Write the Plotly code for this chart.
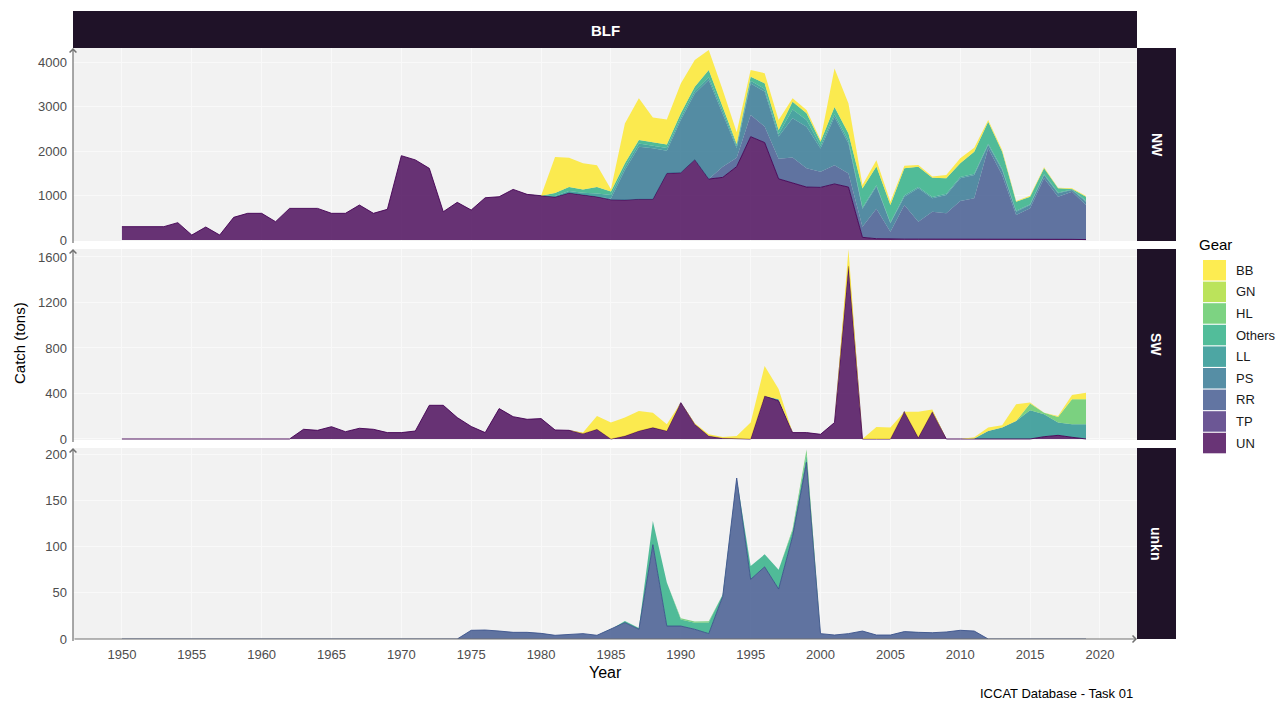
import plotly.graph_objects as go

# ---------------------------------------------------------------------------
# Data: BLF catch (tons) by gear, 1950-2019, for the NW, SW and unkn stocks
# ---------------------------------------------------------------------------
years = list(range(1950, 2020))
gears = ["BB", "GN", "HL", "Others", "LL", "PS", "RR", "TP", "UN"]
gear_colors = {
    "BB": "#FDE725", "GN": "#AADC32", "HL": "#5DC863", "Others": "#27AD81",
    "LL": "#21908C", "PS": "#2C728E", "RR": "#3B528B", "TP": "#472D7B",
    "UN": "#440154",
}
x_ticks = [1950, 1955, 1960, 1965, 1970, 1975, 1980, 1985, 1990, 1995,
           2000, 2005, 2010, 2015, 2020]


def from_year(first, values):
    """Series that starts in `first`; earlier years carry no catch."""
    return [0] * (first - 1950) + list(values)


# NW
nw_un = [300, 300, 300, 300, 390, 112, 292, 112, 510, 600,
         600, 412, 711, 711, 711, 600, 600, 786, 600, 690,
         1895, 1800, 1610, 636, 846, 674, 950, 973, 1138, 1026,
         996, 965, 1055, 1011, 970, 905, 900, 914, 914, 1498,
         1513, 1805, 1370, 1408, 1650, 2322, 2190, 1375, 1280, 1190,
         1183, 1260, 1190, 60, 30, 20, 20, 20, 20, 20,
         20, 20, 20, 15, 15, 15, 30, 20, 15, 10]
nw_rr = from_year(1993, [240, 200, 487, 360, 450, 575, 420, 350, 420, 305,
                         240, 670, 167, 766, 392, 617, 580, 856, 916, 2040,
                         1445, 547, 697, 1356, 954, 1071, 776])
nw_ps = from_year(1985, [30, 673, 1183, 1150, 510, 1183, 1490, 2225, 1198, 220,
                         711, 786, 500, 880, 937, 525, 1086, 674, 400, 500,
                         188, 188, 749, 299, 411, 510, 524, 75, 113, 75,
                         74, 74, 75, 38, 75])
nw_ll = from_year(1981, [26, 46, 49, 76, 76, 67, 73, 60, 60, 60,
                         60, 60, 60, 40, 60, 60, 60, 200, 150, 60,
                         60, 60, 30, 30, 20, 30, 30, 30, 30, 30,
                         30, 30, 30, 20, 20, 20, 20, 10, 20])
nw_others = from_year(1981, [64, 88, 78, 148, 80, 83, 77, 70, 80, 90,
                             89, 165, 90, 50, 90, 127, 89, 173, 149, 90,
                             165, 165, 430, 420, 391, 606, 457, 434, 345, 307,
                             495, 494, 382, 204, 168, 130, 92, 12, 93])
nw_bb = from_year(1981, [809, 659, 585, 487, 50, 897, 936, 561, 561, 674,
                         600, 450, 374, 262, 150, 225, 225, 75, 75, 37,
                         861, 674, 75, 140, 75, 60, 37, 30, 74, 112,
                         90, 37, 37, 15, 22, 23, 15, 15, 15])

# SW
sw_un = [0, 0, 0, 0, 0, 0, 0, 0, 0, 0,
         0, 0, 0, 85, 76, 108, 64, 94, 85, 56,
         56, 70, 296, 296, 188, 110, 56, 267, 196, 173,
         179, 79, 76, 47, 85, 0, 26, 70, 100, 70,
         319, 129, 26, 6, 0, 0, 378, 334, 56, 56,
         41, 144, 1521, 0, 0, 0, 240, 12, 240, 0,
         0, 0, 0, 0, 0, 0, 20, 32, 15, 0]
sw_ll = from_year(1997, [15, 0, 0, 0, 0, 0, 0, 0, 0, 0,
                         0, 0, 0, 0, 5, 70, 100, 158, 252, 197,
                         112, 114, 129])
sw_hl = from_year(2015, [60, 14, 49, 220, 220])
sw_bb = from_year(1983, [10, 117, 144, 162, 176, 131, 59, 0, 10, 15,
                         12, 26, 144, 264, 90, 0, 0, 0, 0, 146,
                         0, 105, 100, 0, 228, 20, 0, 0, 10, 30,
                         20, 147, 8, 0, 9, 38, 58])

# unkn
unkn_rr = from_year(1975, [9.4, 9.7, 8.6, 7.2, 7.2, 6.1, 4.0, 4.7, 5.8, 4.0,
                           10.5, 17.7, 10.5, 102, 14, 14, 10.5, 5.8, 46, 174,
                           64.5, 78, 54, 111, 191, 5.8, 4.3, 5.8, 8.6, 4.3,
                           4.3, 8.0, 7.2, 6.8, 7.6, 9.4, 8.6, 0, 0, 0,
                           0, 0, 0, 0, 0])
unkn_others = from_year(1986, [1.8, 1.5, 25.6, 47, 7, 7, 12, 2, 0, 14.5,
                               13.5, 21, 6, 8])
unkn_hl = from_year(1990, [1.5, 1.5, 1.5, 0, 0, 0, 0, 0, 2, 6])

panels = [
    ("NW", {"UN": nw_un, "RR": nw_rr, "PS": nw_ps, "LL": nw_ll,
            "Others": nw_others, "BB": nw_bb}),
    ("SW", {"UN": sw_un, "LL": sw_ll, "HL": sw_hl, "BB": sw_bb}),
    ("unkn", {"RR": unkn_rr, "Others": unkn_others, "HL": unkn_hl}),
]
y_ranges = [[-22, 4315], [-9, 1670], [0, 206.5]]
y_ticks = [[0, 1000, 2000, 3000, 4000],
           [0, 400, 800, 1200, 1600],
           [0, 50, 100, 150, 200]]

# ---------------------------------------------------------------------------
# Geometry: positions are given in pixels of the 1281 x 702 view; the page is
# rendered slightly taller (FIG_H) and shown squeezed into VIEW_H.
# ---------------------------------------------------------------------------
W, VIEW_H, FIG_H = 1281, 702, 711
Y_STRETCH = FIG_H / VIEW_H
PANEL_X = (73, 1137)
PANEL_ROWS = [(47, 240), (248, 439), (447, 638)]
STRIP_DARK = "#1F1228"
BG = "#F2F2F2"
FONT = "Liberation Sans, Arial, sans-serif"


def fx(p):
    return p / W


def fy(p):
    return 1 - p / VIEW_H


def rgba(hex_color, a):
    h = hex_color.lstrip("#")
    r, g, b = int(h[0:2], 16), int(h[2:4], 16), int(h[4:6], 16)
    return f"rgba({r},{g},{b},{a})"


def label(text, x, y, size, color, **kw):
    """Paper-positioned text centred on (x, y) pixels unless told otherwise."""
    base = dict(text=text, xref="paper", yref="paper", x=fx(x), y=fy(y),
                xanchor="center", yanchor="middle", showarrow=False,
                font=dict(size=size, color=color))
    base.update(kw)
    return base


fig = go.Figure()

stack_order = list(reversed(gears))  # UN at the bottom, BB on top
for i, (name, series) in enumerate(panels):
    xa = "x" if i == 0 else f"x{i + 1}"
    ya = "y" if i == 0 else f"y{i + 1}"
    first = True
    for gear in stack_order:
        if gear not in series:
            continue
        # the lowest layer of each panel keeps a thin outline (baseline too)
        lw = 0.9 if first else 0
        first = False
        fig.add_trace(go.Scatter(
            x=years, y=series[gear], name=gear, mode="lines",
            stackgroup=name, line=dict(width=lw, color=gear_colors[gear]),
            fillcolor=rgba(gear_colors[gear], 0.8),
            xaxis=xa, yaxis=ya, showlegend=False,
            hovertemplate=f"{name} {gear}<br>%{{x}}: %{{y}} t<extra></extra>",
        ))

layout = dict(
    width=W, height=FIG_H, autosize=False,
    margin=dict(l=0, r=0, t=0, b=0, pad=0),
    paper_bgcolor="white",
    plot_bgcolor=BG,
    showlegend=False,
    font=dict(family=FONT, size=13, color="#4D4D4D"),
)

for i, (top, bottom) in enumerate(PANEL_ROWS):
    sx = "" if i == 0 else str(i + 1)
    layout[f"xaxis{sx}"] = dict(
        domain=[fx(PANEL_X[0]), fx(PANEL_X[1])],
        range=[1946.5, 2022.65],
        anchor=f"y{sx}",
        tickvals=x_ticks,
        showticklabels=(i == 2),
        tickfont=dict(size=13, color="#4D4D4D"),
        ticks="", ticklabelstandoff=6,
        showgrid=True, gridcolor="#F9F9F9", gridwidth=1,
        zeroline=False, showline=False,
        matches="x" if i else None,
    )
    layout[f"yaxis{sx}"] = dict(
        domain=[fy(bottom), fy(top)],
        range=y_ranges[i],
        anchor=f"x{sx}",
        tickvals=y_ticks[i],
        tickfont=dict(size=13, color="#4D4D4D"),
        ticks="", ticklabelstandoff=5,
        showgrid=True, gridcolor="#F9F9F9", gridwidth=1,
        zeroline=False, showline=False,
    )

fig.update_layout(**layout)

shapes = []
annotations = []

# facet strips
shapes.append(dict(type="rect", xref="paper", yref="paper",
                   x0=fx(PANEL_X[0]), x1=fx(PANEL_X[1]), y0=fy(47), y1=fy(10),
                   fillcolor=STRIP_DARK, line=dict(width=0), layer="below"))
annotations.append(label("<b>BLF</b>", (PANEL_X[0] + PANEL_X[1]) / 2, 29,
                         15, "white"))
for i, (name, _) in enumerate(panels):
    top, bottom = PANEL_ROWS[i]
    shapes.append(dict(type="rect", xref="paper", yref="paper",
                       x0=fx(1137), x1=fx(1176), y0=fy(bottom), y1=fy(top),
                       fillcolor=STRIP_DARK, line=dict(width=0), layer="below"))
    annotations.append(label(f"<b>{name}</b>", 1156.5, (top + bottom) / 2,
                             14, "white", textangle=90))

# axis lines ending in arrows
AXIS_GREY = "#707070"
for i, (top, bottom) in enumerate(PANEL_ROWS):
    sx = "" if i == 0 else str(i + 1)
    annotations.append(dict(
        text="", xref=f"x{sx} domain", yref=f"y{sx} domain", x=0, y=1,
        ax=0, ay=(bottom - top + 1) * Y_STRETCH, axref="pixel", ayref="pixel",
        showarrow=True, arrowhead=4, arrowsize=1.1, arrowwidth=1.2,
        arrowcolor=AXIS_GREY))
annotations.append(dict(
    text="", xref="x3 domain", yref="y3 domain", x=1, y=0,
    ax=-(PANEL_X[1] - PANEL_X[0]), ay=0, axref="pixel", ayref="pixel",
    showarrow=True, arrowhead=4, arrowsize=1.1, arrowwidth=1.2,
    arrowcolor=AXIS_GREY))

# axis titles and caption
annotations.append(label("Catch (tons)", 19, 342, 15, "black", textangle=-90))
annotations.append(label("Year", 605, 671, 16, "black"))
annotations.append(label("ICCAT Database - Task 01", 1135, 692, 13, "black",
                         xanchor="right"))

# gear legend
annotations.append(label("Gear", 1197, 243, 15, "black", xanchor="left"))
KEY_TOP, KEY_STEP, KEY_SIZE = 259, 21.6, 20.5
for k, gear in enumerate(gears):
    y0 = KEY_TOP + k * KEY_STEP
    shapes.append(dict(type="rect", xref="paper", yref="paper",
                       x0=fx(1203), x1=fx(1226), y0=fy(y0 + KEY_SIZE), y1=fy(y0),
                       fillcolor=rgba(gear_colors[gear], 0.8),
                       line=dict(width=0)))
    annotations.append(label(gear, 1234, y0 + KEY_SIZE / 2, 13, "#1A1A1A",
                             xanchor="left"))

fig.update_layout(shapes=shapes, annotations=annotations)
fig.write_html("out.html", config={"responsive": False})
